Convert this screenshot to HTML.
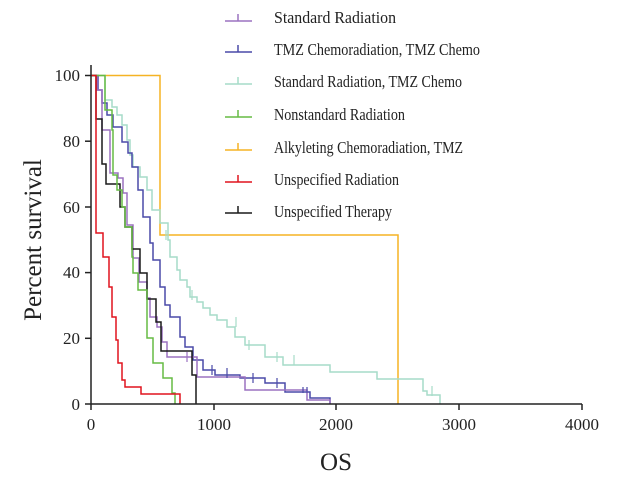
<!DOCTYPE html>
<html><head><meta charset="utf-8"><style>
html,body{margin:0;padding:0;background:#fff;}
svg{display:block;font-family:"Liberation Serif",serif;}
</style></head><body>
<svg width="630" height="481" viewBox="0 0 630 481" xmlns="http://www.w3.org/2000/svg">
<g fill="none" stroke-width="1.5">
<polyline stroke="#f5b324" points="91,75.5 160,75.5 160,235 398,235 398,404"/>
<polyline stroke="#a6dcc9" points="91,75.5 105,75.5 105,100 112,100 112,107 117,107 117,115 122,115 122,125 127,125 127,140 130,140 130,155 133,155 133,167 140,167 140,177 147,177 147,190 152,190 152,210 160,210 160,223 168,223 168,240 170,240 170,257 177,257 177,270 180,270 180,280 187,280 187,287 190,287 190,297 197,297 197,302 203,302 203,308 210,308 210,315 217,315 217,320 227,320 227,327 235,327 235,337 245,337 245,345 265,345 265,357 283,357 283,365 330,365 330,372 377,372 377,379 423,379 423,391 427,391 427,395 440,395 440,404"/>
<polyline stroke="#4a4aa8" points="91,75.5 98,75.5 98,90 102,90 102,103 107,103 107,115 113,115 113,127 122,127 122,142 128,142 128,153 132,153 132,167 138,167 138,190 143,190 143,217 150,217 150,243 153,243 153,260 160,260 160,287 165,287 165,305 170,305 170,317 180,317 180,337 185,337 185,347 193,347 193,360 203,360 203,370 215,370 215,375 240,375 240,378 265,378 265,383 285,383 285,392 310,392 310,398 330,398 330,404"/>
<polyline stroke="#9b72c0" points="91,75.5 97,75.5 97,90 102,90 102,130 110,130 110,173 118,173 118,178 123,178 123,193 127,193 127,225 133,225 133,258 139,258 139,282 147,282 147,298 150,298 150,317 157,317 157,327 162,327 162,342 167,342 167,357 197,357 197,377 245,377 245,390 307,390 307,400 330,400 330,404"/>
<polyline stroke="#1a1a1a" points="91,75.5 96,75.5 96,119 102,119 102,164 106,164 106,184 120,184 120,207 125,207 125,227 132,227 132,249 140,249 140,273 147,273 147,299 156,299 156,322 161,322 161,351 192,351 192,375 196,375 196,404"/>
<polyline stroke="#66bb44" points="91,75.5 105,75.5 105,110 112,110 112,130 113,130 113,175 117,175 117,190 122,190 122,207 125,207 125,227 132,227 132,257 133,257 133,273 138,273 138,290 147,290 147,338 153,338 153,363 163,363 163,378 172,378 172,393 175,393 175,404"/>
<polyline stroke="#e0141e" points="91,75.5 96,75.5 96,120 96,233 103,233 103,257 109,257 109,287 112,287 112,317 116,317 116,340 118,340 118,363 122,363 122,380 125,380 125,387 141,387 141,394 180,394 180,404"/>
</g>
<g stroke-width="1.2">
<line x1="166" y1="230" x2="166" y2="240" stroke="#a6dcc9"/>
<line x1="192" y1="290" x2="192" y2="300" stroke="#a6dcc9"/>
<line x1="236" y1="317" x2="236" y2="327" stroke="#a6dcc9"/>
<line x1="249" y1="340" x2="249" y2="350" stroke="#a6dcc9"/>
<line x1="277" y1="352" x2="277" y2="362" stroke="#a6dcc9"/>
<line x1="294" y1="355" x2="294" y2="365" stroke="#a6dcc9"/>
<line x1="432" y1="386" x2="432" y2="396" stroke="#a6dcc9"/>
<line x1="212" y1="365" x2="212" y2="375" stroke="#4a4aa8"/>
<line x1="227" y1="368" x2="227" y2="378" stroke="#4a4aa8"/>
<line x1="253" y1="373" x2="253" y2="383" stroke="#4a4aa8"/>
<line x1="277" y1="378" x2="277" y2="388" stroke="#4a4aa8"/>
<line x1="303" y1="387" x2="303" y2="393" stroke="#4a4aa8"/>
<line x1="307" y1="387" x2="307" y2="393" stroke="#4a4aa8"/>
<line x1="187" y1="352" x2="187" y2="362" stroke="#9b72c0"/>
</g>
<g stroke="#222" stroke-width="1.5">
<line x1="91" y1="65" x2="91" y2="404"/>
<line x1="91" y1="404" x2="582" y2="404"/>
<line x1="85" y1="75.5" x2="91" y2="75.5"/>
<line x1="85" y1="141.2" x2="91" y2="141.2"/>
<line x1="85" y1="207" x2="91" y2="207"/>
<line x1="85" y1="272.6" x2="91" y2="272.6"/>
<line x1="85" y1="338.3" x2="91" y2="338.3"/>
<line x1="85" y1="404" x2="91" y2="404"/>
<line x1="91" y1="404" x2="91" y2="410"/>
<line x1="214" y1="404" x2="214" y2="410"/>
<line x1="336" y1="404" x2="336" y2="410"/>
<line x1="459" y1="404" x2="459" y2="410"/>
<line x1="582" y1="404" x2="582" y2="410"/>
</g>
<g font-size="17" fill="#222" text-anchor="end">
<text x="80" y="81">100</text><text x="80" y="147">80</text><text x="80" y="213">60</text>
<text x="80" y="278">40</text><text x="80" y="344">20</text><text x="80" y="410">0</text>
</g>
<g font-size="17" fill="#222" text-anchor="middle">
<text x="91" y="430">0</text><text x="214" y="430">1000</text><text x="336" y="430">2000</text>
<text x="459" y="430">3000</text><text x="582" y="430">4000</text>
</g>
<text x="336" y="470" font-size="25" fill="#222" text-anchor="middle">OS</text>
<text transform="translate(41,240) rotate(-90)" font-size="25" fill="#222" text-anchor="middle">Percent survival</text>
<g stroke-width="1.5">
<line x1="225" y1="21" x2="252" y2="21" stroke="#9b72c0"/><line x1="238" y1="14" x2="238" y2="21" stroke="#9b72c0"/>
<line x1="225" y1="52" x2="252" y2="52" stroke="#4a4aa8"/><line x1="238" y1="45" x2="238" y2="52" stroke="#4a4aa8"/>
<line x1="225" y1="84" x2="252" y2="84" stroke="#a6dcc9"/><line x1="238" y1="77" x2="238" y2="84" stroke="#a6dcc9"/>
<line x1="225" y1="117" x2="252" y2="117" stroke="#66bb44"/><line x1="238" y1="110" x2="238" y2="117" stroke="#66bb44"/>
<line x1="225" y1="150" x2="252" y2="150" stroke="#f5b324"/><line x1="238" y1="143" x2="238" y2="150" stroke="#f5b324"/>
<line x1="225" y1="182" x2="252" y2="182" stroke="#e0141e"/><line x1="238" y1="175" x2="238" y2="182" stroke="#e0141e"/>
<line x1="225" y1="213" x2="252" y2="213" stroke="#1a1a1a"/><line x1="238" y1="206" x2="238" y2="213" stroke="#1a1a1a"/>
</g>
<g font-size="17" fill="#222">
<text x="274" y="23" textLength="122" lengthAdjust="spacingAndGlyphs">Standard Radiation</text>
<text x="274" y="55" textLength="206" lengthAdjust="spacingAndGlyphs">TMZ Chemoradiation, TMZ Chemo</text>
<text x="274" y="87" textLength="188" lengthAdjust="spacingAndGlyphs">Standard Radiation, TMZ Chemo</text>
<text x="274" y="120" textLength="131" lengthAdjust="spacingAndGlyphs">Nonstandard Radiation</text>
<text x="274" y="153" textLength="189" lengthAdjust="spacingAndGlyphs">Alkyleting Chemoradiation, TMZ</text>
<text x="274" y="185" textLength="125" lengthAdjust="spacingAndGlyphs">Unspecified Radiation</text>
<text x="274" y="217" textLength="118" lengthAdjust="spacingAndGlyphs">Unspecified Therapy</text>
</g>
</svg>
</body></html>
